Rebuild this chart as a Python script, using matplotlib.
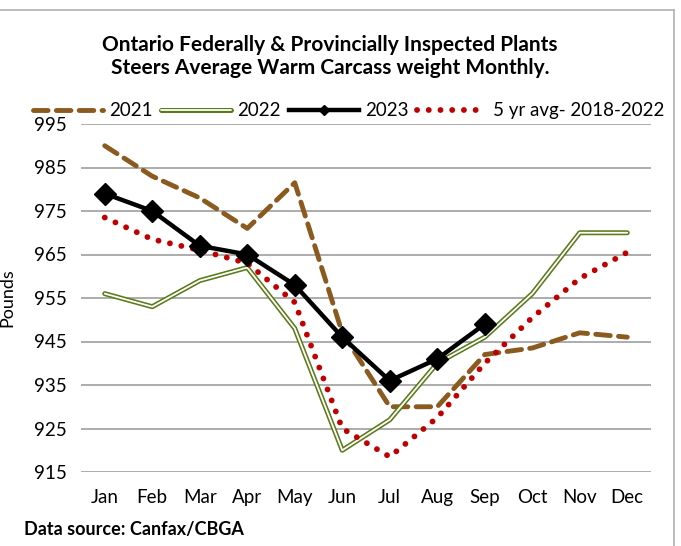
import matplotlib
matplotlib.use("Agg")
import matplotlib.pyplot as plt
from matplotlib.lines import Line2D
import matplotlib.patheffects as pe
import numpy as np

months = ["Jan", "Feb", "Mar", "Apr", "May", "Jun", "Jul", "Aug", "Sep", "Oct", "Nov", "Dec"]
y2021 = [990, 983, 978, 971, 981.5, 947, 930, 930, 942, 943.5, 947, 946]
y2022 = [956, 953, 959, 962, 948, 920, 927, 940, 946, 956, 970, 970]
y2023 = [979, 975, 967, 965, 958, 946, 936, 941, 949]
avg5 = [973.5, 968.5, 966, 963, 954, 925, 918.5, 927.5, 940, 950.5, 959.5, 965.5]
yticks = [915, 925, 935, 945, 955, 965, 975, 985, 995]

plt.rcParams['font.family'] = ['Lato', 'DejaVu Sans']

brown = "#8B5A1E"
green = "#5B7A1A"
red = "#C00000"

fig = plt.figure(figsize=(6.81, 5.46), dpi=100)
ax = fig.add_axes([81/681, 1 - 472/546, (651 - 81)/681, (472 - 124)/546])

x = np.arange(len(months))

ax.plot(x, y2021, color=brown, lw=3.5, dashes=(3.0, 1.7), dash_capstyle='round',
        solid_joinstyle='round', label="2021", zorder=3)
ax.plot(x, y2022, color=green, lw=3.6, solid_capstyle='round', zorder=3,
        path_effects=[pe.Stroke(linewidth=3.6, foreground=green),
                      pe.Stroke(linewidth=1.3, foreground="white")],
        label="2022")
ax.plot(x[:len(y2023)], y2023, color="black", lw=3.2, marker="D", markersize=11,
        label="2023", zorder=4)
ax.plot(x, avg5, color=red, lw=4.2, linestyle=(0, (0.01, 2.0)), dash_capstyle='round',
        label="5 yr avg- 2018-2022", zorder=3)

ax.set_xlim(-0.5, len(months) - 0.5)
ax.set_ylim(915, 995)
ax.set_yticks(yticks)
ax.set_xticks(x)
ax.set_xticklabels(months)
ax.tick_params(axis='both', length=0, labelsize=13.5, colors='black')
ax.tick_params(axis='x', pad=12)
ax.tick_params(axis='y', pad=10)
ax.grid(axis='y', color='#a6a6a6', lw=1.3)
ax.set_axisbelow(True)
for s in ax.spines.values():
    s.set_visible(False)
ax.set_ylabel("Pounds", fontsize=13)
ax.yaxis.set_label_coords(-0.115, 0.5)

leg = fig.legend(loc='center', bbox_to_anchor=(349/681, 1 - 111/546), ncol=4, frameon=False,
                 fontsize=13.5, handlelength=3.7, handletextpad=0.35, columnspacing=0.45,
                 borderaxespad=0, markerscale=0.5)

fig.text(330/681, 1 - 45/546, "Ontario Federally & Provincially Inspected Plants",
         ha='center', va='center', fontsize=15, fontweight='bold')
fig.text(330/681, 1 - 68/546, "Steers Average Warm Carcass weight Monthly.",
         ha='center', va='center', fontsize=15, fontweight='bold')
fig.text(24/681, 1 - 530/546, "Data source: Canfax/CBGA", ha='left', va='center',
         fontsize=13, fontweight='bold')

# border around the chart
fig.add_artist(Line2D([0, 674/681], [1 - 10/546, 1 - 10/546], color='#b0b0b0', lw=1.2))
fig.add_artist(Line2D([674/681, 674/681], [1 - 10/546, 0], color='#b0b0b0', lw=1.2))

fig.savefig("out.png", dpi=100)
